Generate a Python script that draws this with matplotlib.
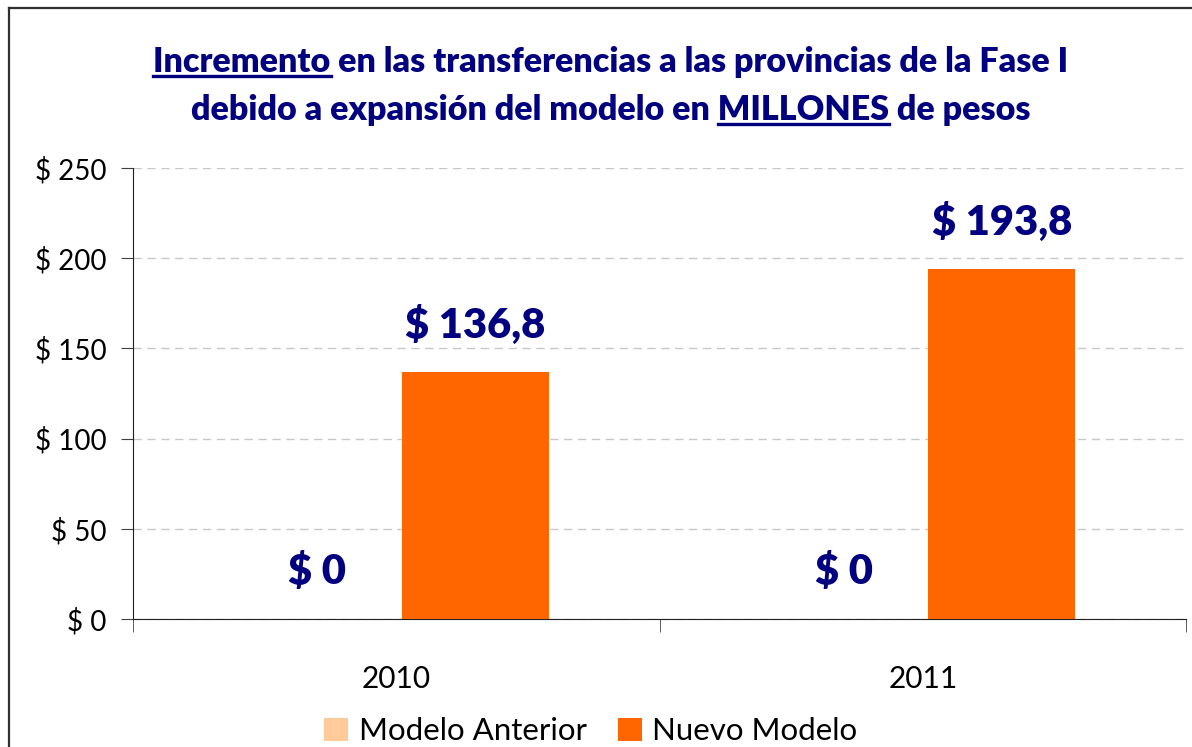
import matplotlib

matplotlib.use("Agg")
import matplotlib.pyplot as plt
from matplotlib.lines import Line2D
from matplotlib.patches import Patch

plt.rcParams["font.family"] = ["Lato", "DejaVu Sans"]

years = ["2010", "2011"]
series = ["Modelo Anterior", "Nuevo Modelo"]
modelo_anterior = [0.0, 0.0]
nuevo_modelo = [136.8, 193.8]
y_ticks = [0, 50, 100, 150, 200, 250]
title_lines = [
    "Incremento en las transferencias a las provincias de la Fase I",
    "debido a expansión del modelo en MILLONES de pesos",
]
underlined = ["Incremento", "MILLONES"]

NAVY = "#000080"
colors = ["#FFCC99", "#FF6600"]
TITLE_FS = 24.5

W, H = 1192, 747
fig = plt.figure(figsize=(W / 100, H / 100), dpi=100)
ax = fig.add_axes([133 / W, 1 - 619 / H, (1186 - 133) / W, (619 - 168) / H])

x = list(range(len(years)))
width = 0.28
offset = 0.15
for i, (vals, name) in enumerate(zip([modelo_anterior, nuevo_modelo], series)):
    pos = [xi + (i - 0.5) * 2 * offset for xi in x]
    ax.bar(pos, vals, width=width, color=colors[i], label=name, zorder=3)
    for p, v in zip(pos, vals):
        txt = "$ " + (f"{v:.1f}".replace(".", ",") if v else "0")
        ax.annotate(txt, (p, v), xytext=(0, 34), textcoords="offset points",
                    ha="center", va="center", fontsize=30, fontweight="heavy",
                    color=NAVY)

ax.set_xlim(-0.5, len(years) - 0.5)
ax.set_ylim(0, 250)
ax.set_yticks(y_ticks)
ax.set_yticklabels([f"$ {t}" for t in y_ticks], fontsize=20)
ax.set_xticks(x)
ax.set_xticklabels(years, fontsize=21.5)
ax.tick_params(axis="x", which="major", length=0, pad=33)
ax.set_xticks([-0.5, 0.5, 1.5], minor=True)
ax.tick_params(axis="x", which="minor", length=9, color="#404040")
ax.tick_params(axis="y", length=9, color="#404040", pad=10)
ax.grid(axis="y", linestyle=(0, (6, 4)), color="#C8C8C8", linewidth=1, zorder=0)
for s in ["top", "right"]:
    ax.spines[s].set_visible(False)
for s in ["left", "bottom"]:
    ax.spines[s].set_color("#202020")

# title with underlined words
tys = [1 - 62 / H, 1 - 110 / H]
texts = []
for line, ty in zip(title_lines, tys):
    t = fig.text(611 / W, ty, line, ha="center", va="center", fontsize=TITLE_FS,
                 fontweight="heavy", color=NAVY)
    texts.append(t)

fig.canvas.draw()
renderer = fig.canvas.get_renderer()


def text_width(s):
    tmp = fig.text(0, 0, s, fontsize=TITLE_FS, fontweight="heavy")
    w = tmp.get_window_extent(renderer).width
    tmp.remove()
    return w


for t, line, word in zip(texts, title_lines, underlined):
    bb = t.get_window_extent(renderer)
    idx = line.index(word)
    start = bb.x0 + text_width(line[: idx + len(word)]) - text_width(word)
    end = start + text_width(word)
    uy = bb.y0 + 2
    fig.add_artist(Line2D([start / W, end / W], [uy / H, uy / H],
                          transform=fig.transFigure, color=NAVY, linewidth=2.4))

handles = [Patch(facecolor=c, edgecolor="none") for c in colors]
fig.legend(handles, series, loc="center", bbox_to_anchor=(591 / W, 1 - 731 / H),
           ncol=2, frameon=False, fontsize=22.5, handlelength=0.75, handleheight=0.75,
           handletextpad=0.35, columnspacing=1.0)

# outer chart frame (cropped on right and bottom)
fig.add_artist(Line2D([9 / W, 9 / W], [0, 1 - 8 / H], transform=fig.transFigure,
                      color="#303030", linewidth=1.6))
fig.add_artist(Line2D([9 / W, 1], [1 - 8 / H, 1 - 8 / H], transform=fig.transFigure,
                      color="#303030", linewidth=1.6))

fig.savefig("out.png", dpi=100)
